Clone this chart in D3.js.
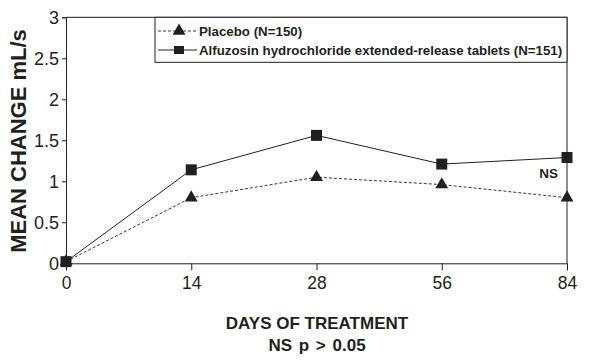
<!DOCTYPE html>
<html>
<head>
<meta charset="utf-8">
<script src="https://cdn.jsdelivr.net/npm/d3@7"></script>
<style>
  html, body { margin: 0; padding: 0; background: #fff; }
  svg { display: block; }
  text { font-family: "Liberation Sans", Arial, Helvetica, sans-serif; fill: #231f20; }
</style>
</head>
<body>
<svg id="chart" width="590" height="363"></svg>
<script>
const days = ["0", "14", "28", "56", "84"];
const placebo = [0.02, 0.80, 1.05, 0.96, 0.80];
const alfuzosin = [0.02, 1.14, 1.56, 1.21, 1.29];
const yTicks = [0, 0.5, 1, 1.5, 2, 2.5, 3];
const seriesNames = ["Placebo (N=150)", "Alfuzosin hydrochloride extended-release tablets (N=151)"];
const yTitle = "MEAN CHANGE mL/s";
const xTitle = "DAYS OF TREATMENT";
const xSubTitle = "NS p > 0.05";
const annotation = "NS";

const ink = "#231f20";
const svg = d3.select("#chart");
const pLeft = 66, pRight = 567, pTop = 17.3, pBottom = 263.3;

const x = d3.scalePoint().domain(days).range([pLeft, pRight]);
const y = d3.scaleLinear().domain([0, 3]).range([pBottom, pTop]);

// frame (top & right)
svg.append("path")
  .attr("d", `M${pLeft},${pTop}H${pRight}V${pBottom}`)
  .attr("fill", "none").attr("stroke", ink).attr("stroke-width", 1);

// x axis
const xAxis = svg.append("g").attr("transform", `translate(0,${pBottom})`)
  .call(d3.axisBottom(x).tickSizeOuter(0).tickSize(7).tickPadding(6));
xAxis.select(".domain").attr("stroke", ink);
xAxis.selectAll(".tick line").attr("stroke", ink);
xAxis.selectAll(".tick text").attr("font-size", "17.5px").attr("fill", ink)
  .style("font-family", "'Liberation Sans', Arial, sans-serif");

// y axis
const yAxis = svg.append("g").attr("transform", `translate(${pLeft},0)`)
  .call(d3.axisLeft(y).tickValues(yTicks).tickFormat(d3.format("")).tickSizeOuter(0).tickSize(4).tickPadding(3));
yAxis.select(".domain").attr("stroke", ink);
yAxis.selectAll(".tick line").attr("stroke", ink);
yAxis.selectAll(".tick text").attr("font-size", "18px").attr("fill", ink)
  .style("font-family", "'Liberation Sans', Arial, sans-serif");

// lines
const line = d3.line().x((d, i) => x(days[i])).y(d => y(d));
svg.append("path").datum(placebo).attr("d", line)
  .attr("fill", "none").attr("stroke", ink).attr("stroke-width", 0.9).attr("stroke-dasharray", "3,2");
svg.append("path").datum(alfuzosin).attr("d", line)
  .attr("fill", "none").attr("stroke", ink).attr("stroke-width", 1);

// markers
const tri = d3.symbol().type(d3.symbolTriangle).size(72);
svg.append("g").selectAll("path").data(placebo).join("path")
  .attr("d", tri)
  .attr("transform", (d, i) => `translate(${x(days[i])},${y(d)})`)
  .attr("fill", ink);
const sq = 11;
svg.append("g").selectAll("rect").data(alfuzosin).join("rect")
  .attr("x", (d, i) => x(days[i]) - sq / 2).attr("y", d => y(d) - sq / 2)
  .attr("width", sq).attr("height", sq).attr("fill", ink);

// NS annotation
svg.append("text").attr("x", 558).attr("y", 178).attr("text-anchor", "end")
  .attr("font-size", "13.5px").attr("font-weight", "bold").text(annotation);

// legend
const lg = svg.append("g");
lg.append("rect").attr("x", 155).attr("y", pTop).attr("width", pRight - 155).attr("height", 45)
  .attr("fill", "#fff").attr("stroke", ink).attr("stroke-width", 1);
const rows = [31, 50];
lg.append("line").attr("x1", 158).attr("x2", 197).attr("y1", rows[0]).attr("y2", rows[0])
  .attr("stroke", ink).attr("stroke-width", 0.9).attr("stroke-dasharray", "3,2");
lg.append("path").attr("d", tri).attr("transform", `translate(179,${rows[0]})`).attr("fill", ink);
lg.append("line").attr("x1", 158).attr("x2", 197).attr("y1", rows[1]).attr("y2", rows[1])
  .attr("stroke", ink).attr("stroke-width", 1);
lg.append("rect").attr("x", 179 - 5).attr("y", rows[1] - 4).attr("width", 10).attr("height", 8).attr("fill", ink);
lg.selectAll("text.lab").data(seriesNames).join("text")
  .attr("class", "lab")
  .attr("x", 199).attr("y", (d, i) => rows[i] + 4.5)
  .attr("font-size", "13.3px").attr("font-weight", "bold").text(d => d);

// titles
svg.append("text")
  .attr("transform", `translate(26,141) rotate(-90)`)
  .attr("text-anchor", "middle").attr("font-size", "22px").attr("font-weight", "bold")
  .text(yTitle);
svg.append("text").attr("x", 317).attr("y", 329).attr("text-anchor", "middle")
  .attr("font-size", "17px").attr("font-weight", "bold").text(xTitle);
svg.append("text").attr("x", 317).attr("y", 351).attr("text-anchor", "middle")
  .attr("font-size", "17px").attr("font-weight", "bold").attr("word-spacing", "2px").text(xSubTitle);
</script>
</body>
</html>
